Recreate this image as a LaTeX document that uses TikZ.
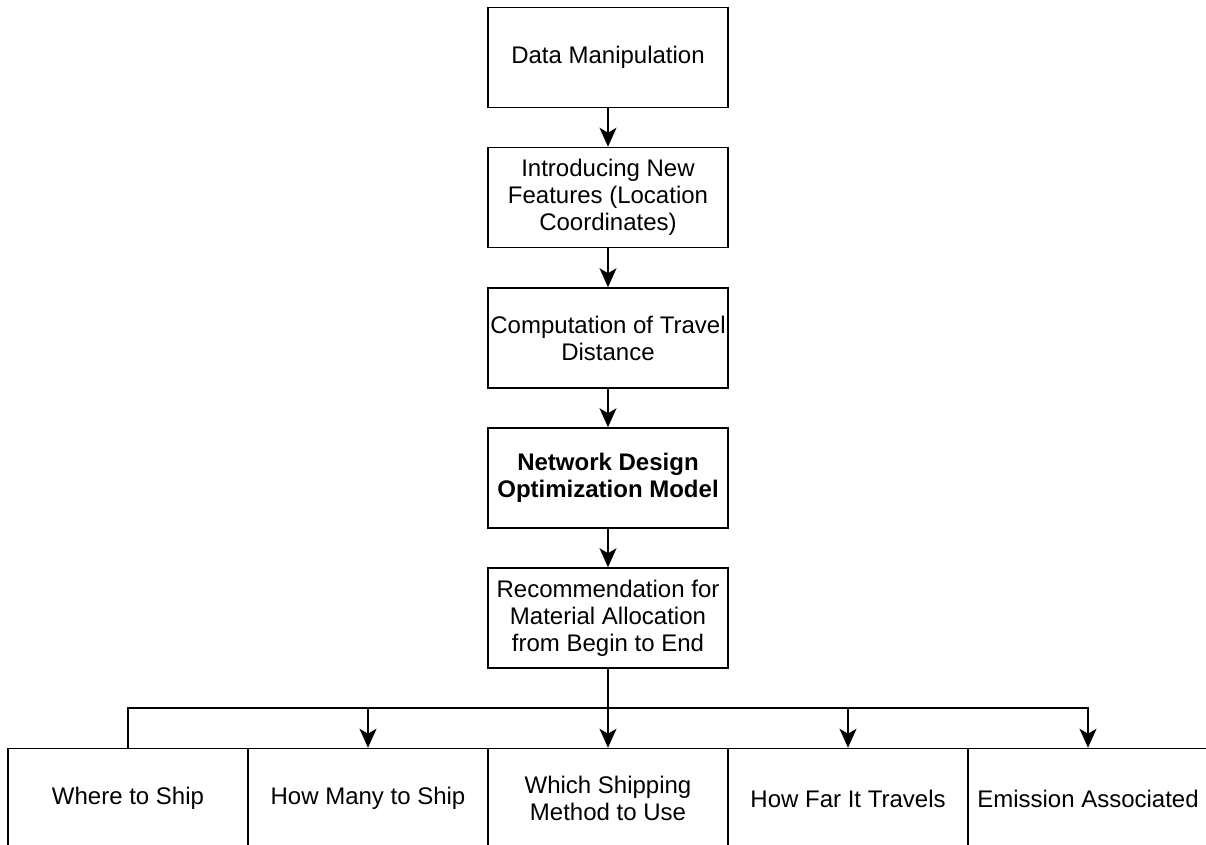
\documentclass[tikz,border=0pt]{standalone}
\usepackage{fontspec}
\setmainfont{Liberation Sans}
\usetikzlibrary{arrows.meta}
\begin{document}
\begin{tikzpicture}[x=1pt,y=-1pt,
  stepbox/.style={draw, line width=1.5pt, minimum width=240pt, minimum height=100pt,
    inner sep=0pt, align=center, font=\fontsize{24}{27}\selectfont},
  flow/.style={line width=1.5pt, -{Stealth[length=19pt,width=17pt,inset=5pt]}},
  plain/.style={line width=1.5pt}]
\useasboundingbox (0,0) rectangle (1206,845);

% main chain
\node[stepbox] (dm)  at (608,57.5) {Data Manipulation};
\node[stepbox] (feat) at (608,197.5) {Introducing New\\Features (Location\\Coordinates)};
\node[stepbox] (dist) at (608,338) {Computation of Travel\\Distance};
\node[stepbox] (model) at (608,478) {\bfseries Network Design\\\bfseries Optimization Model};
\node[stepbox] (rec) at (608,618) {Recommendation for\\Material Allocation\\from Begin to End};

% outputs
\node[stepbox] (o1) at (128,798.5) {Where to Ship};
\node[stepbox] (o2) at (368,798.5) {How Many to Ship};
\node[stepbox] (o3) at (608,798.5) {Which Shipping\\Method to Use};
\node[stepbox] (o4) at (848,798.5) {How Far It Travels};
\node[stepbox] (o5) at (1088,798.5) {Emission Associated};

\draw[flow] (dm) -- (feat);
\draw[flow] (feat) -- (dist);
\draw[flow] (dist) -- (model);
\draw[flow] (model) -- (rec);

% fan-out bus
\coordinate (bus) at (608,708);
\draw[flow] (rec) -- (o3);
\draw[plain] (bus) -| (o1.north);
\draw[flow] (bus) -| (o2.north);
\draw[flow] (bus) -| (o4.north);
\draw[flow] (bus) -| (o5.north);
\end{tikzpicture}
\end{document}
